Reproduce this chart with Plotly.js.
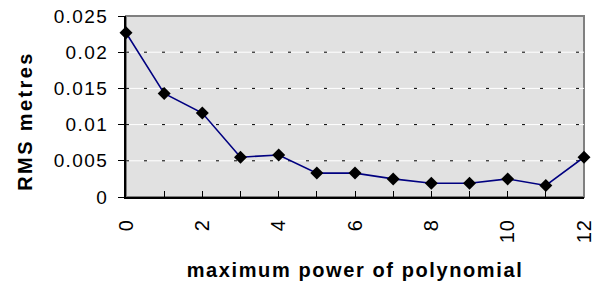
<!DOCTYPE html>
<html>
<head>
<meta charset="utf-8">
<script src="https://cdn.plot.ly/plotly-3.0.1.min.js"></script>
<style>
  html, body { margin: 0; padding: 0; background: #fff; }
  #chart { width: 593px; height: 281px; }
  .ytick text { letter-spacing: 1.4px; }
  .xtick text { letter-spacing: 1px; }
  .g-xtitle text { letter-spacing: 1.6px; }
  .annotation-text { letter-spacing: 2.4px; }
</style>
</head>
<body>
<div id="chart"></div>
<script>
const powers = [0, 1, 2, 3, 4, 5, 6, 7, 8, 9, 10, 11, 12];
const rmsMetres = [0.0227, 0.0143, 0.0116, 0.0055, 0.0058, 0.0033, 0.0033, 0.0025, 0.0019, 0.0019, 0.0025, 0.0016, 0.0055];
const gridValues = [0.005, 0.01, 0.015, 0.02];
const xTitle = 'maximum power of polynomial';
const yTitle = 'RMS metres';

const trace = {
  x: powers,
  y: rmsMetres,
  type: 'scatter',
  mode: 'lines+markers',
  line: { color: '#000080', width: 1.6 },
  marker: { symbol: 'diamond', size: 10, color: '#000000' },
  cliponaxis: false,
  hoverinfo: 'skip'
};

const whiteGrid = gridValues.map(v => ({
  type: 'line', xref: 'paper', yref: 'y',
  x0: 0, x1: 1, y0: v, y1: v,
  line: { color: '#ffffff', width: 1 },
  layer: 'below'
}));
const dashGrid = gridValues.map(v => ({
  type: 'line', xref: 'paper', yref: 'y',
  x0: 0, x1: 1, y0: v, y1: v,
  line: { color: '#000000', width: 1, dash: '3px,15px' },
  layer: 'below'
}));

const borderShape = {
  type: 'rect', xref: 'paper', yref: 'paper', x0: 0, x1: 1, y0: 0, y1: 1,
  line: { color: '#808080', width: 2 }, layer: 'below'
};

const layout = {
  width: 593, height: 281,
  margin: { l: 126, r: 9, t: 16, b: 84 },
  paper_bgcolor: '#ffffff',
  plot_bgcolor: '#e1e1e1',
  font: { family: 'Liberation Sans, Arial, sans-serif', color: '#000000' },
  showlegend: false,
  xaxis: {
    range: [0, 12], tick0: 0, dtick: 2,
    ticks: 'inside', ticklen: 6, tickcolor: '#000000', tickwidth: 1,
    minor: { dtick: 1, ticks: 'inside', ticklen: 6, tickcolor: '#000000', tickwidth: 1, showgrid: false },
    tickangle: -90, ticklabelstandoff: 12, ticklabeloverflow: 'allow',
    tickfont: { size: 20, family: 'Liberation Sans, Arial, sans-serif' },
    showgrid: false, zeroline: false,
    showline: true, linecolor: '#000000', linewidth: 2,
    title: { text: xTitle, font: { size: 20, weight: 'bold', family: 'Liberation Sans, Arial, sans-serif' }, standoff: 22 },
    fixedrange: true
  },
  yaxis: {
    range: [0, 0.025], dtick: 0.005, tick0: 0,
    ticks: 'outside', ticklen: 6, tickcolor: '#000000', tickwidth: 1,
    ticklabelstandoff: 6, ticklabeloverflow: 'allow',
    tickfont: { size: 19, family: 'Liberation Sans, Arial, sans-serif' },
    showgrid: false,
    zeroline: false,
    showline: true, linecolor: '#000000', linewidth: 2,
    fixedrange: true
  },
  annotations: [{
    text: yTitle, textangle: -90, showarrow: false,
    xref: 'paper', yref: 'paper', x: -0.221, y: 0.42,
    xanchor: 'center', yanchor: 'middle',
    font: { size: 20, weight: 'bold', family: 'Liberation Sans, Arial, sans-serif', color: '#000000' }
  }],
  shapes: [borderShape, ...whiteGrid, ...dashGrid]
};

Plotly.newPlot('chart', [trace], layout, { staticPlot: true, displayModeBar: false });
</script>
</body>
</html>
